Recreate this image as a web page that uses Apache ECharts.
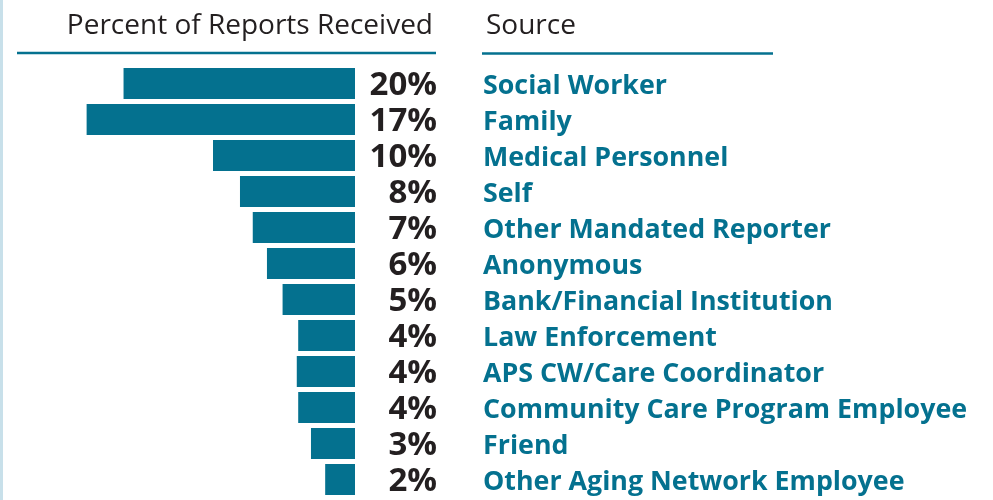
<!DOCTYPE html>
<html>
<head>
<meta charset="utf-8">
<script src="https://cdn.jsdelivr.net/npm/echarts@6/dist/echarts.min.js"></script>
<style>
  html, body { margin: 0; padding: 0; background: #fff; }
  #chart { width: 993px; height: 500px; }
</style>
</head>
<body>
<div id="chart"></div>
<script>
// sources, top to bottom
const sources = [
  "Social Worker", "Family", "Medical Personnel", "Self",
  "Other Mandated Reporter", "Anonymous", "Bank/Financial Institution",
  "Law Enforcement", "APS CW/Care Coordinator",
  "Community Care Program Employee", "Friend", "Other Aging Network Employee"
];
// printed percent labels
const pctLabels = ["20%", "17%", "10%", "8%", "7%", "6%", "5%", "4%", "4%", "4%", "3%", "2%"];
// bar lengths as drawn in the picture (in % units)
const barValues = [16.3, 18.9, 10.0, 8.1, 7.2, 6.2, 5.1, 4.0, 4.1, 4.0, 3.1, 2.1];

const teal = "#04718f";
const dark = "#231f20";

const chart = echarts.init(document.getElementById("chart"));

const option = {
  animation: false,
  grid: { left: 71, right: 638, top: 65.5, bottom: 2.5, containLabel: false },
  xAxis: {
    type: "value", inverse: true, min: 0, max: 20,
    show: false
  },
  yAxis: [
    {
      type: "category", data: pctLabels, inverse: true, position: "right",
      axisLine: { show: false }, axisTick: { show: false },
      axisLabel: {
        interval: 0, margin: 82, align: "right",
        formatter: v => "{p|" + v + "}",
        rich: {
          p: { color: dark, fontFamily: "Open Sans", fontWeight: "bold", fontSize: 33,
               padding: [5, 0, 0, 0] }
        }
      }
    },
    {
      type: "category", data: sources, inverse: true, position: "right",
      axisLine: { show: false }, axisTick: { show: false },
      axisLabel: {
        interval: 0, margin: 128, align: "left",
        formatter: v => "{s|" + v + "}",
        rich: {
          s: { color: teal, fontFamily: "Open Sans", fontWeight: "bold", fontSize: 26.8,
               padding: [6, 0, 0, 0] }
        }
      }
    }
  ],
  series: [{
    type: "bar",
    data: barValues,
    barWidth: 31,
    itemStyle: { color: teal },
    silent: true
  }],
  graphic: [
    { type: "rect", shape: { x: 0, y: 0, width: 3, height: 500 }, style: { fill: "#c8e0ea" } },
    {
      type: "text", x: 433, y: 26,
      style: { text: "Percent of Reports Received", fill: dark, align: "right", verticalAlign: "middle",
        font: "normal 28px 'Open Sans'" }
    },
    {
      type: "text", x: 486, y: 26,
      style: { text: "Source", fill: dark, align: "left", verticalAlign: "middle",
        font: "normal 28px 'Open Sans'" }
    },
    { type: "line", shape: { x1: 17, y1: 53, x2: 436, y2: 53 }, style: { stroke: teal, lineWidth: 2.5 } },
    { type: "line", shape: { x1: 482, y1: 53.5, x2: 773, y2: 53.5 }, style: { stroke: teal, lineWidth: 2.5 } }
  ]
};

chart.setOption(option);
</script>
</body>
</html>
